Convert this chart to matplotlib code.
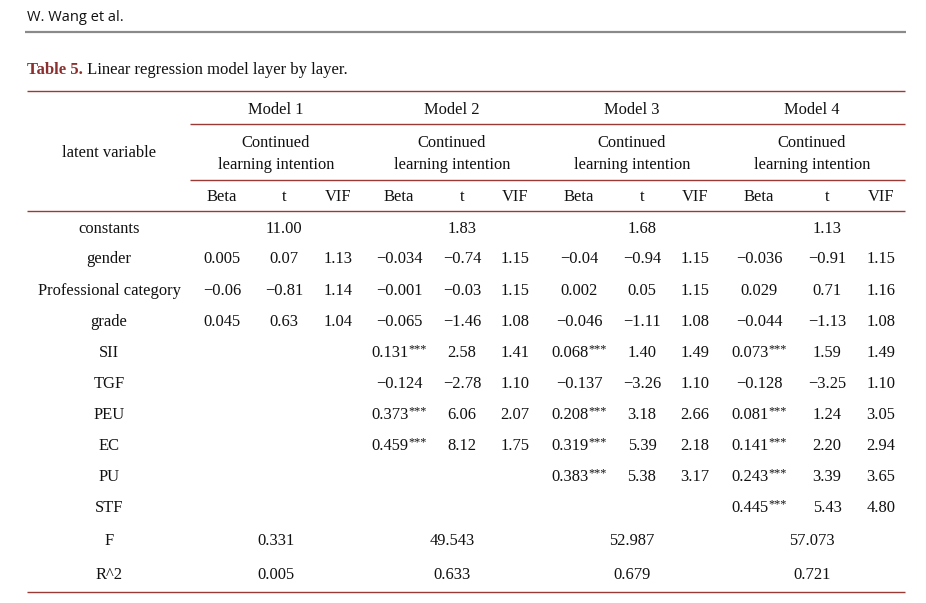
import matplotlib
matplotlib.use("Agg")
import matplotlib.pyplot as plt

# ---------------- data ----------------
rows = ["constants", "gender", "Professional category", "grade", "SII", "TGF",
        "PEU", "EC", "PU", "STF"]
models = ["Model 1", "Model 2", "Model 3", "Model 4"]
sub_cols = ["Beta", "t", "VIF"]

M = "\u2212"
constants = ["11.00", "1.83", "1.68", "1.13"]

m1_beta = [None, "0.005", M + "0.06", "0.045", None, None, None, None, None, None]
m1_t    = [None, "0.07", M + "0.81", "0.63", None, None, None, None, None, None]
m1_vif  = [None, "1.13", "1.14", "1.04", None, None, None, None, None, None]

m2_beta = [None, M + "0.034", M + "0.001", M + "0.065", "0.131***", M + "0.124",
           "0.373***", "0.459***", None, None]
m2_t    = [None, M + "0.74", M + "0.03", M + "1.46", "2.58", M + "2.78", "6.06", "8.12", None, None]
m2_vif  = [None, "1.15", "1.15", "1.08", "1.41", "1.10", "2.07", "1.75", None, None]

m3_beta = [None, M + "0.04", "0.002", M + "0.046", "0.068***", M + "0.137",
           "0.208***", "0.319***", "0.383***", None]
m3_t    = [None, M + "0.94", "0.05", M + "1.11", "1.40", M + "3.26", "3.18", "5.39", "5.38", None]
m3_vif  = [None, "1.15", "1.15", "1.08", "1.49", "1.10", "2.66", "2.18", "3.17", None]

m4_beta = [None, M + "0.036", "0.029", M + "0.044", "0.073***", M + "0.128",
           "0.081***", "0.141***", "0.243***", "0.445***"]
m4_t    = [None, M + "0.91", "0.71", M + "1.13", "1.59", M + "3.25", "1.24", "2.20", "3.39", "5.43"]
m4_vif  = [None, "1.15", "1.16", "1.08", "1.49", "1.10", "3.05", "2.94", "3.65", "4.80"]

f_values = ["0.331", "49.543", "52.987", "57.073"]
r2_values = ["0.005", "0.633", "0.679", "0.721"]

# ---------------- layout ----------------
W, H = 926, 603
fig = plt.figure(figsize=(W / 100, H / 100), dpi=100)
ax = fig.add_axes([0, 0, 1, 1])
ax.set_xlim(0, W)
ax.set_ylim(H, 0)
ax.axis("off")

SERIF = ["Liberation Serif", "DejaVu Serif"]
FS = 11.9
RED = "#9b3a34"
DY = 1.8

def txt(x, y, s, **kw):
    kw.setdefault("ha", "center")
    kw.setdefault("va", "center")
    kw.setdefault("fontsize", FS)
    kw.setdefault("family", SERIF)
    kw.setdefault("color", "#111111")
    return ax.text(x, y + DY, s, **kw)

# page header
ax.text(27, 17.5, "W. Wang et al.", ha="left", va="center", fontsize=10.5,
        family=["Open Sans", "DejaVu Sans"], color="#111111")
ax.plot([25, 906], [32, 32], color="#8a8a8a", lw=1.6, solid_capstyle="butt")

# caption
t1 = ax.text(27, 70.5, "Table 5.", ha="left", va="center", fontsize=12,
             family=SERIF, weight="bold", color="#8b2f2f")
ax.annotate(" Linear regression model layer by layer.", xy=(1, 0.5), xycoords=t1,
            ha="left", va="center", fontsize=12, family=SERIF, color="#111111")

# rules
def hline(y, x0, x1):
    ax.plot([x0, x1], [y, y], color=RED, lw=1.0, solid_capstyle="butt")

hline(91, 27, 905)
hline(124, 190, 905)
hline(180, 190, 905)
hline(211, 27, 905)
hline(592, 27, 905)

# columns
label_x = 109
model_cx = [276, 452, 632, 812]
col_x = [[222, 284, 338], [399, 462, 515], [579, 642, 695], [759, 827, 881]]

txt(label_x, 151, "latent variable")
for i, m in enumerate(models):
    txt(model_cx[i], 108, m)
    txt(model_cx[i], 141, "Continued")
    txt(model_cx[i], 163, "learning intention")
    for j, s in enumerate(sub_cols):
        txt(col_x[i][j], 195, s)

row_y = [227, 257, 289, 320, 351, 382, 413, 444, 475, 506]
for r, name in enumerate(rows):
    txt(label_x, row_y[r], name)

all_models = [(m1_beta, m1_t, m1_vif), (m2_beta, m2_t, m2_vif),
              (m3_beta, m3_t, m3_vif), (m4_beta, m4_t, m4_vif)]

for i, (b, t, v) in enumerate(all_models):
    txt(col_x[i][1], row_y[0], constants[i])
    for r in range(1, len(rows)):
        for j, arr in enumerate((b, t, v)):
            val = arr[r]
            if val is None:
                continue
            if val.endswith("***"):
                num = val[:-3]
                tt = txt(col_x[i][j] - 9, row_y[r], num)
                ax.annotate("***", xy=(1, 0.72), xycoords=tt, ha="left", va="center",
                            fontsize=8.8, family=SERIF, color="#111111")
            else:
                txt(col_x[i][j], row_y[r], val)

txt(label_x, 539, "F")
txt(label_x, 573, "R^2")
for i in range(4):
    txt(model_cx[i], 539, f_values[i])
    txt(model_cx[i], 573, r2_values[i])

fig.savefig("out.png", dpi=100, facecolor="white")
